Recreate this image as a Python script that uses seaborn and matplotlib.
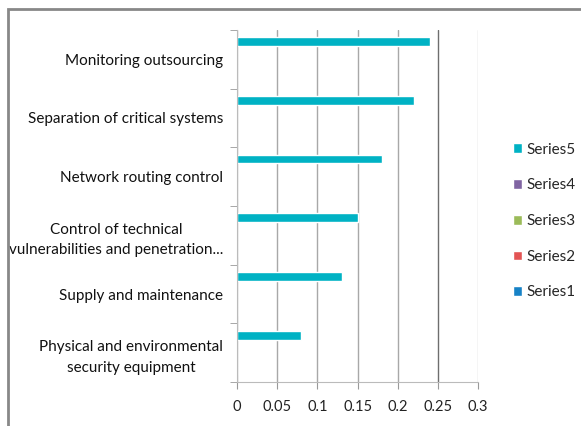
import numpy as np
import pandas as pd
import seaborn as sns
import matplotlib.pyplot as plt

# categories listed top to bottom as in the chart
categories = ['Monitoring outsourcing',
              'Separation of critical systems',
              'Network routing control',
              'Control of technical\nvulnerabilities and penetration...',
              'Supply and maintenance',
              'Physical and environmental\nsecurity equipment']
series = ['Series5', 'Series4', 'Series3', 'Series2', 'Series1']
series5 = [0.24, 0.22, 0.18, 0.15, 0.13, 0.08]
series4 = [0, 0, 0, 0, 0, 0]
series3 = [0, 0, 0, 0, 0, 0]
series2 = [0, 0, 0, 0, 0, 0]
series1 = [0, 0, 0, 0, 0, 0]
xticks = [0, 0.05, 0.1, 0.15, 0.2, 0.25, 0.3]
xticklabels = ['0', '0.05', '0.1', '0.15', '0.2', '0.25', '0.3']
colors = {'Series5': '#00b2c4', 'Series4': '#8064a2', 'Series3': '#9bbb59',
          'Series2': '#e35454', 'Series1': '#1782c6'}

sns.set_style("white")
plt.rcParams['font.family'] = ['Lato', 'DejaVu Sans']

rows = []
for name, vals in zip(series, [series5, series4, series3, series2, series1]):
    for c, v in zip(categories, vals):
        rows.append([c, v, name])
df = pd.DataFrame(data=rows, columns=['category', 'value', 'series'])

fig = plt.figure(figsize=(5.81, 4.26), dpi=100)
ax = fig.add_axes([0.408, 0.103, 0.415, 0.827])

sns.barplot(data=df, y='category', x='value', hue='series', order=categories,
            hue_order=series, palette=colors, orient='h', width=0.75,
            saturation=1, ax=ax)

ax.set_xlim(0, 0.3)
ax.set_ylim(len(categories) - 0.5, -0.5)
ax.set_xticks(xticks)
ax.set_xticklabels(xticklabels, fontsize=10.5, color='#222222')
ax.set_xlabel('')
ax.set_ylabel('')

# category labels centered, ticks at slot boundaries
ax.set_yticks(range(len(categories)))
ax.set_yticklabels(categories, fontsize=11, color='#111111',
                   multialignment='center', linespacing=1.6)
ax.tick_params(axis='y', length=0, pad=10)
ax.set_yticks(np.arange(-0.5, len(categories)), minor=True)
ax.tick_params(axis='y', which='minor', length=5, color='#999999', direction='out', left=True)
ax.tick_params(axis='x', length=5, color='#999999', direction='out', bottom=True, pad=8)

ax.grid(axis='x', color='#a8a8a8', linewidth=1)
ax.set_axisbelow(True)
gl = ax.get_xgridlines()
gl[5].set_color('#6e6e6e')
gl[6].set_color('#d0d0d0')
for s in ['top', 'right']:
    ax.spines[s].set_visible(False)
ax.spines['left'].set_color('#bbbbbb')
ax.spines['bottom'].set_color('#bbbbbb')

handles, labels = ax.get_legend_handles_labels()
ax.legend(handles, labels, loc='center left', bbox_to_anchor=(513 / 581, 0.481),
          bbox_transform=fig.transFigure, frameon=False, fontsize=11,
          borderpad=0, borderaxespad=0,
          handlelength=0.6, handleheight=0.6, handletextpad=0.25, labelspacing=1.42)

fig.add_artist(plt.Rectangle((0.0138, -0.05), 1.5, 1.028, transform=fig.transFigure,
                             fill=False, edgecolor='#888888', linewidth=2))

fig.savefig('out.png', dpi=100)
